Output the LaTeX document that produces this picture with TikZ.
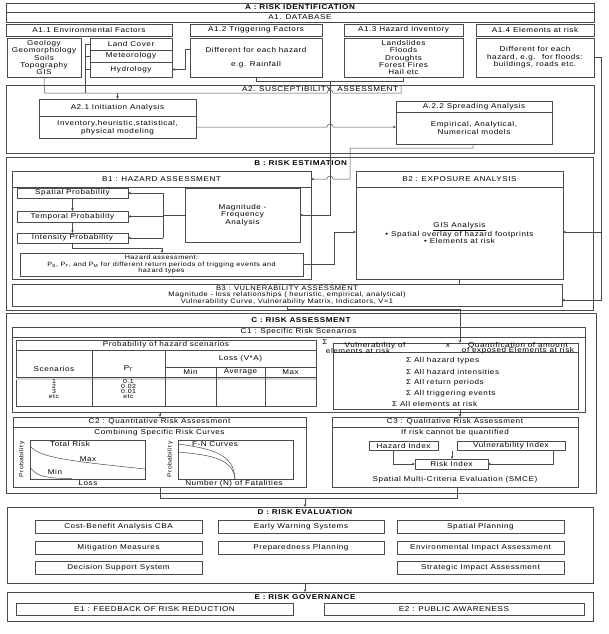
\documentclass[tikz,border=0pt]{standalone}
\usepackage{fontspec}
\setmainfont{Liberation Sans}[FakeStretch=1.16,LetterSpace=8]
\usetikzlibrary{arrows.meta,calc}
\definecolor{lncol}{RGB}{75,75,75}
\newcommand{\rbox}[7][]{\node[box,minimum width={(#5-#3)*1pt},minimum height={(#6-#4)*1pt},#1] (#2) at ({(#3+#5)/2},{(#4+#6)/2}) {#7};}
\begin{document}
\begin{tikzpicture}[x=1pt,y=-1pt,
  every node/.style={font=\fontsize{7}{7.4}\selectfont,inner sep=0pt,outer sep=0pt,text=black,align=center},
  box/.style={draw=lncol,fill=white,line width=0.5pt},
  hd/.style={font=\fontsize{7}{7.4}\selectfont\bfseries},
  ln/.style={draw=lncol,line width=0.5pt},
  arr/.style={ln,-{Stealth[length=3pt,width=2.6pt]}},
  sm/.style={font=\fontsize{6.2}{6.6}\selectfont},
  tiny/.style={font=\fontsize{6}{5.1}\selectfont},
]
\useasboundingbox[fill=white] (0,0) rectangle (609,634);

% ---------------- A
\rbox{hA}{6}{3}{594}{12}{\bfseries A : RISK IDENTIFICATION}
\rbox{hA1}{6}{12}{594}{22}{A1. DATABASE}
\rbox{a11h}{6}{24}{172}{36}{A1.1 Environmental Factors}
\rbox{a12h}{190}{24}{322}{36}{A1.2 Triggering Factors}
\rbox{a13h}{344}{24}{463}{36}{A1.3 Hazard Inventory}
\rbox{a14h}{476}{24}{594}{36}{A1.4 Elements at risk}
\rbox{geo}{7}{38}{81}{77}{Geology\\Geomorphology\\Soils\\Topography\\GIS}
\rbox{lc}{90}{38}{172}{50}{Land Cover}
\rbox{met}{90}{50}{172}{62}{Meteorology}
\rbox{hyd}{90}{62}{172}{77}{Hydrology}
\rbox{a12c}{190}{38}{322}{77}{Different for each hazard\\[6pt]e.g. Rainfall}
\rbox{a13c}{344}{38}{463}{77}{Landslides\\Floods\\Droughts\\Forest Fires\\Hail etc}
\rbox{a14c}{476}{38}{594}{77}{Different for each\\hazard, e.g.~ for floods:\\buildings, roads etc.}

\rbox{a2}{6}{85}{594}{153}{}
\node[anchor=east] (a2t) at (398,89) {A2. SUSCEPTIBILITY~~ASSESSMENT};
\rbox{a21}{39}{99}{196}{138}{}
\rbox{a21h}{39}{99}{196}{116}{A2.1 Initiation Analysis}
\node (a21t) at (117.5,127.5) {Inventory,heuristic,statistical,\\physical modeling};
\rbox{a22}{396}{101}{552}{144}{}
\rbox{a22h}{396}{101}{552}{112}{A.2.2 Spreading Analysis}
\node (a22t) at (474,128) {Empirical, Analytical,\\Numerical models};

% ---------------- B
\rbox{bfr}{6}{157}{593}{310}{}
\node[hd,anchor=east] (bt) at (347,163) {B : RISK ESTIMATION};
\rbox{b1}{12}{171}{311}{279}{}
\rbox{b1h}{12}{171}{311}{187}{B1 : HAZARD ASSESSMENT}
\rbox{sp}{17}{188}{128}{198}{Spatial Probability}
\rbox{tp}{17}{211}{128}{222}{Temporal Probability}
\rbox{ip}{17}{233}{128}{243}{Intensity Probability}
\rbox{mf}{185}{188}{300}{242}{Magnitude -\\Frequency\\Analysis}
\rbox[sm]{ha}{20}{253}{303}{276}{Hazard assessment:\\P\textsubscript{S}, P\textsubscript{T}, and P\textsubscript{M} for different return periods of trigging events and\\hazard types}
\rbox{b2}{356}{171}{563}{279}{}
\rbox{b2h}{356}{171}{563}{187}{B2 : EXPOSURE ANALYSIS}
\node (b2t) at (459.5,233) {\underline{GIS Analysis}\\\textbullet\ Spatial overlay of hazard footprints\\\textbullet\ Elements at risk};
\rbox[font=\fontsize{6.5}{6.5}\selectfont]{b3}{12}{284}{562}{306}{B3 : VULNERABILITY ASSESSMENT\\Magnitude - loss relationships ( heuristic, empirical, analytical)\\Vulnerability Curve, Vulnerability Matrix, Indicators, V=1}

% ---------------- C
\rbox{cfr}{6}{313}{596}{493}{}
\node[hd] (ct) at (301,320) {C : RISK ASSESSMENT};
\rbox{c1}{12}{327}{585}{412}{}
\rbox{c1h}{12}{327}{585}{337}{C1 : Specific Risk Scenarios}
\rbox{tb}{16}{340}{316}{406}{}
\rbox{tbh}{16}{340}{316}{350}{Probability of hazard scenarios}
\fill[gray!30] (16,377) rectangle (316,380);
\draw[ln] (92,350) -- (92,406) (165,350) -- (165,406) (165,367) -- (316,367)
  (16,377) -- (316,377) (216,367) -- (216,406) (265,367) -- (265,406);
\node (tsc) at (54,369) {Scenarios};
\node (tpt) at (128.5,369) {P\textsubscript{T}};
\node (tls) at (240.5,358.5) {Loss (V*A)};
\node (tmn) at (190.5,372) {Min};
\node (tav) at (240.5,372) {Average};
\node (tmx) at (290.5,372) {Max};
\node[tiny] (tv1) at (54,389) {1\\2\\3\\etc};
\node[tiny] (tv2) at (128.5,389) {0.1\\0.02\\0.01\\etc};
\node (sg0) at (325,342) {Σ};
\rbox{rb}{333}{343}{578}{409}{}
\draw[ln] (333,352.5) -- (578,352.5);
\node (rv1) at (375,345.5) {Vulnerability of};
\node (rv2) at (358,351) {elements at risk};
\node (rvx) at (448,345.5) {x};
\node (rq1) at (518,345.5) {Quantification of amount};
\node (rq2) at (518,351) {of exposed Elements at risk};
\node[anchor=west] (s1) at (406,361) {Σ\hspace{3pt}All hazard types};
\node[anchor=west] (s2) at (406,372) {Σ\hspace{3pt}All hazard intensities};
\node[anchor=west] (s3) at (406,383) {Σ\hspace{3pt}All return periods};
\node[anchor=west] (s4) at (406,394) {Σ\hspace{3pt}All triggering events};
\node[anchor=west] (s5) at (392,404) {Σ\hspace{3pt}All elements at risk};

\rbox{c2}{13}{417}{306}{487}{}
\rbox{c2h}{13}{417}{306}{427}{C2 : Quantitative Risk Assessment}
\node (c2s) at (159.5,432.5) {Combining Specific Risk Curves};
\rbox{ch1}{30}{440}{145}{479}{}
\rbox{ch2}{178}{440}{293}{479}{}
\draw[ln] (30,446) .. controls (40,458) and (70,461) .. (145,469);
\draw[ln] (30,467) .. controls (36,476) and (45,478.5) .. (72,478.5);
\draw[ln] (178,444) .. controls (215,449) and (234,455) .. (235,479);
\draw[ln] (178,452) .. controls (212,455) and (233,459) .. (235,479);
\node (c1t) at (70,444) {Total Risk};
\node (c1mx) at (88,459.5) {Max};
\node (c1mn) at (55,472) {Min};
\node (c1l) at (88,483.5) {Loss};
\node[rotate=90,font=\fontsize{5.8}{6}\selectfont] (c1p) at (22,459.5) {Probability};
\node (c2t) at (215,444) {F-N Curves};
\node (c2l) at (234,483.5) {Number (N) of Fatalities};
\node[rotate=90,font=\fontsize{5.8}{6}\selectfont] (c2p) at (170,459.5) {Probability};

\rbox{c3}{332}{417}{578}{487}{}
\rbox{c3h}{332}{417}{578}{427}{C3 : Qualitative Risk Assessment}
\node (c3s) at (455,433) {If risk cannot be quantified};
\rbox{hi}{369}{441}{438}{450}{Hazard Index}
\rbox{vi}{457}{441}{565}{450}{Vulnerability Index}
\rbox{ri}{415}{459}{488}{469}{Risk Index}
\node (smce) at (455,480) {Spatial Multi-Criteria Evaluation (SMCE)};

% ---------------- D
\rbox{dfr}{7}{507}{593}{583}{}
\node[hd] (dt) at (305,512) {D : RISK EVALUATION};
\rbox{d11}{35}{520}{202}{533}{Cost-Benefit Analysis CBA}
\rbox{d12}{218}{520}{384}{533}{Early Warning Systems}
\rbox{d13}{397}{520}{564}{533}{Spatial Planning}
\rbox{d21}{35}{541}{202}{554}{Mitigation Measures}
\rbox{d22}{218}{541}{384}{554}{Preparedness Planning}
\rbox{d23}{397}{541}{564}{554}{Environmental Impact Assessment}
\rbox{d31}{35}{561}{202}{574}{Decision Support System}
\rbox{d33}{397}{561}{564}{574}{Strategic Impact Assessment}

% ---------------- E
\rbox{efr}{7}{592}{593}{621}{}
\node[hd] (et) at (305,597) {E : RISK GOVERNANCE};
\rbox{e1}{16}{603}{293}{615}{E1 : FEEDBACK OF RISK REDUCTION}
\rbox{e2}{324}{603}{584}{615}{E2 : PUBLIC AWARENESS}

% ---------------- connectors
\coordinate (ja) at (44.5,93);
\coordinate (br) at (85,93);
\coordinate (mv) at (330,81);
\coordinate (rv) at (601,300);
\coordinate (rm) at (601,232);
\coordinate (cj) at (305,498);

\draw[ln] (geo.south) -- (ja) -- (327,93) arc(180:360:3) -- (401,93) -- (401,85);
\draw[ln] (lc.west -| br) -- (br);
\draw[ln] (lc.west) -- (lc.west -| br);
\draw[ln] (met.west) -- (met.west -| br);
\draw[ln] (hyd.west) -- (hyd.west -| br);
\draw[arr] (a21.north |- ja) -- (a21.north);
\draw[arr] ($(a12c.north west)+(0,11)$) -- ++(-5,0) |- (hyd.east);
\draw[ln] ($(a12c.south west)+(66,0)$) -- ++(0,4) -| (a13c.south);
\draw[arr] (mv) |- (mf.east);
\draw[arr] ($(a21.south east)+(0,-11)$) -- (327,127) arc(180:360:3) -- ($(a22.south west)+(0,-17)$);
\draw[arr] ($(a22.south west)+(77,0)$) -- ++(0,4) -- (350,148) -- (350,179) -- (333,179) arc(360:180:3) -- (b1h.east);

\draw[arr] (sp) -- (tp);
\draw[arr] (tp) -- (ip);
\coordinate (mfj) at (163,215);
\draw[ln] (mf.west) -- (mf.west -| mfj);
\draw[ln] (sp.east -| mfj) -- (ip.east -| mfj);
\draw[arr] (sp.east -| mfj) -- (sp.east);
\draw[arr] (tp.east -| mfj) -- (tp.east);
\draw[arr] (ip.east -| mfj) -- (ip.east);
\draw[arr] (ip.south) -- ++(0,5) -| ($(ha.north west)+(142,0)$);
\draw[arr] (ha.east) -- ++(31,0) |- ($(b2.west)+(0,7)$);
\draw[ln] (b2.south) -- (b2.south |- b3.north);
\draw[arr] (a14c.east) -| (rv) -- (rv -| b3.east);
\draw[arr] (rm) -- (rm -| b2.east);

\draw[arr] ($(b3.south west)+(275,0)$) -- ++(0,3) -| ($(rb.north west)+(127,0)$);
\draw[arr] ($(c1.south west)+(148,0)$) -- ($(c2.north west)+(147,0)$);
\draw[arr] ($(rb.south west)+(127,0)$) -- ($(c3.north west)+(128,0)$);
\draw[arr] ($(hi.south west)+(24,0)$) |- (ri.west);
\draw[arr] ($(vi.south west)+(96,0)$) |- (ri.east);
\draw[arr] ($(ri.north west)+(37,-8)$) -- ($(ri.north west)+(37,0)$);
\draw[ln] ($(c2.south west)+(147,0)$) -- ++(0,11) -| ($(c3.south west)+(125,0)$);
\draw[arr] (cj) -- (cj |- dfr.north);
\draw[arr] ($(dfr.south)+(5,0)$) -- ($(efr.north)+(5,0)$);
\end{tikzpicture}
\end{document}
